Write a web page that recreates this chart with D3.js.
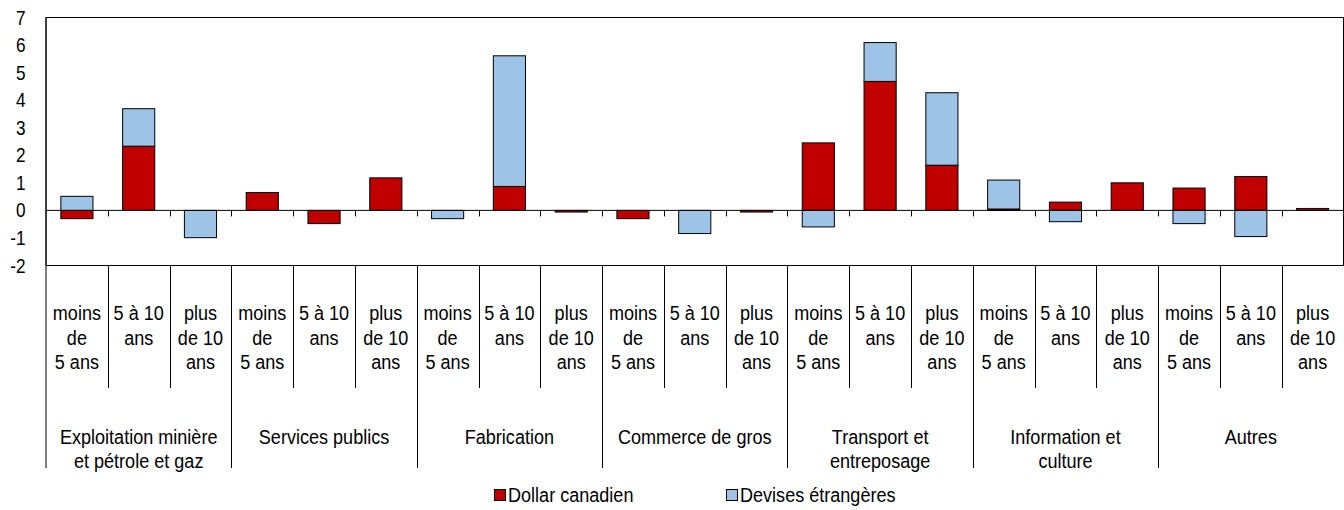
<!DOCTYPE html>
<html><head><meta charset="utf-8">
<script src="https://cdn.jsdelivr.net/npm/d3@7"></script>
<style>
body{margin:0;background:#fff}
svg{display:block}
text{font-family:"Liberation Sans",Arial,sans-serif;fill:#000}
</style>
</head><body>
<svg id="c" width="1344" height="510"></svg>
<script>
// ---- data ----
const groups = [
  ["Exploitation minière", "et pétrole et gaz"],
  ["Services publics"],
  ["Fabrication"],
  ["Commerce de gros"],
  ["Transport et", "entreposage"],
  ["Information et", "culture"],
  ["Autres"]
];
const subLabels = [["moins", "de", "5 ans"], ["5 à 10", "ans"], ["plus", "de 10", "ans"]];
const dollarCanadien    = [-0.30, 2.33, 0.00, 0.65, -0.48, 1.18, 0.00, 0.87, -0.06, -0.30, 0.00, -0.06, 2.45, 4.68, 1.64, 0.05, 0.30, 1.00, 0.81, 1.23, 0.07];
const devisesEtrangeres = [ 0.51, 1.36, -0.99, 0.00, 0.00, 0.00, -0.30, 4.74, 0.00, 0.00, -0.84, 0.00, -0.60, 1.41, 2.63, 1.05, -0.41, 0.00, -0.48, -0.95, 0.00];
const yTicks = [-2, -1, 0, 1, 2, 3, 4, 5, 6, 7];
const yTickLabels = ["-2", "-1", "0", "1", "2", "3", "4", "5", "6", "7"];
const seriesNames = ["Dollar canadien", "Devises étrangères"];
const seriesColors = ["#C00000", "#9DC3E6"];

// ---- layout ----
const L = 46, R = 1343.5, T = 17.5, B = 265.5;
const SX = 0.86; // horizontal condensing to mimic a condensed face
const FS = 21;
const svg = d3.select("#c");

function addText(parent, px, py, str, size, anchor) {
  return parent.append("text")
    .attr("transform", `translate(${px},${py}) scale(${SX},1)`)
    .attr("text-anchor", anchor)
    .attr("font-size", size)
    .text(str);
}

const categories = [];
groups.forEach((g, gi) => subLabels.forEach((s, si) => categories.push({gi, si, id: gi * 3 + si})));
const rows = categories.map((c, i) => ({id: c.id, cad: dollarCanadien[i], fx: devisesEtrangeres[i]}));

const x = d3.scaleBand().domain(categories.map(c => c.id)).range([L, R]).padding(0);
const y = d3.scaleLinear().domain([-2, 7]).range([B, T]);
const barW = x.bandwidth() * 0.52;

// frame
svg.append("rect").attr("x", L).attr("y", T).attr("width", R - L).attr("height", B - T)
  .attr("fill", "none").attr("stroke", "#000").attr("stroke-width", 1);

// y axis labels (positions from the scale)
const ya = svg.append("g");
yTicks.forEach((v, i) => addText(ya, 25.5, y(v) + 7, yTickLabels[i], 20, "end"));

// bars
const stack = d3.stack().keys(["cad", "fx"]).offset(d3.stackOffsetDiverging);
const stacked = stack(rows);
stacked.forEach((layer, li) => {
  svg.append("g").selectAll("rect")
    .data(layer.filter(d => d[0] !== d[1]))
    .join("rect")
    .attr("x", d => x(d.data.id) + (x.bandwidth() - barW) / 2)
    .attr("width", barW)
    .attr("y", d => y(Math.max(d[0], d[1])))
    .attr("height", d => Math.abs(y(d[0]) - y(d[1])))
    .attr("fill", seriesColors[li])
    .attr("stroke", "#000").attr("stroke-width", 1);
});

// zero line with small ticks
const y0 = y(0);
svg.append("line").attr("x1", L).attr("x2", R).attr("y1", y0).attr("y2", y0).attr("stroke", "#000");
categories.forEach((c, i) => {
  if (i === 0) return;
  const xb = Math.round(x(c.id)) + 0.5;
  svg.append("line").attr("x1", xb).attr("x2", xb).attr("y1", y0).attr("y2", y0 + 6).attr("stroke", "#000");
});

// category axis lines
svg.append("line").attr("x1", L).attr("x2", L).attr("y1", T).attr("y2", 468).attr("stroke", "#000");
categories.forEach((c, i) => {
  if (i === 0) return;
  const xb = Math.round(x(c.id)) + 0.5;
  const isGroup = c.si === 0;
  svg.append("line").attr("x1", xb).attr("x2", xb).attr("y1", B).attr("y2", isGroup ? 468 : 388).attr("stroke", "#000");
});

// sub labels
const subBase = [320, 345, 369];
categories.forEach(c => {
  const cx = x(c.id) + x.bandwidth() / 2;
  subLabels[c.si].forEach((line, li) => addText(svg, cx, subBase[li], line, FS, "middle"));
});

// group labels
const grpBase = [444, 468];
groups.forEach((g, gi) => {
  const x0 = x(gi * 3), x1 = x(gi * 3 + 2) + x.bandwidth();
  const cx = (x0 + x1) / 2;
  g.forEach((line, li) => addText(svg, cx, grpBase[li], line, FS, "middle"));
});

// legend
const legX = [494.5, 726.5];
seriesNames.forEach((n, i) => {
  svg.append("rect").attr("x", legX[i]).attr("y", 489.5).attr("width", 11).attr("height", 11)
    .attr("fill", seriesColors[i]).attr("stroke", "#000").attr("stroke-width", 1);
  addText(svg, legX[i] + 13.5, 502, n, FS, "start");
});
</script>
</body></html>
